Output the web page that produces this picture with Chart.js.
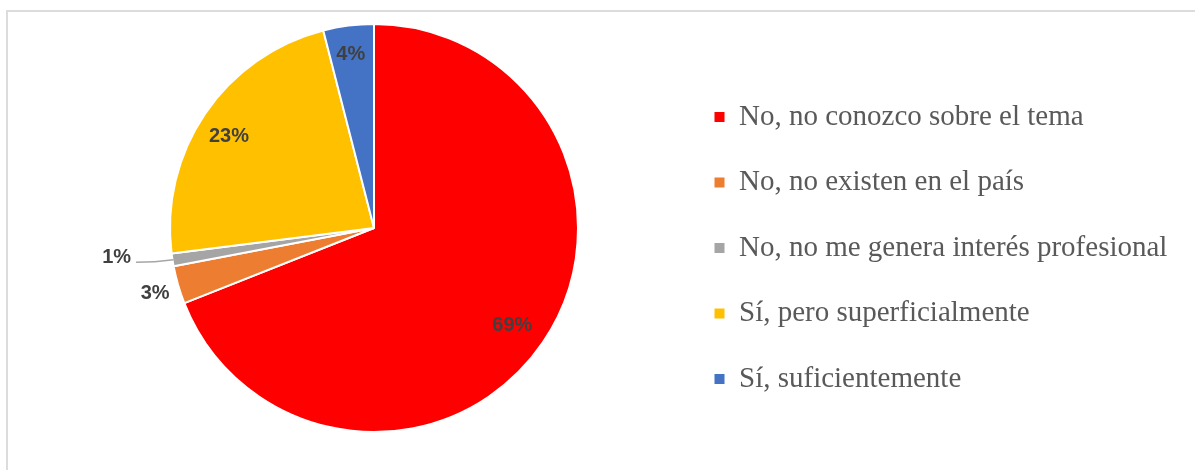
<!DOCTYPE html>
<html>
<head>
<meta charset="utf-8">
<script src="https://cdn.jsdelivr.net/npm/chart.js@4.4.1/dist/chart.umd.min.js"></script>
<style>
  html, body { margin: 0; padding: 0; background: #fff; }
  #wrap { position: relative; width: 1195px; height: 470px; overflow: hidden; }
  #frame { position: absolute; left: 6px; top: 10px; width: 1220px; height: 480px; border: 2px solid #dcdcdc; }
  canvas { position: absolute; left: 0; top: 0; }
</style>
</head>
<body>
<div id="wrap">
  <div id="frame"></div>
  <canvas id="pie" width="1195" height="470"></canvas>
</div>
<script>
const categories = [
  'No, no conozco sobre el tema',
  'No, no existen en el país',
  'No, no me genera interés profesional',
  'Sí, pero superficialmente',
  'Sí, suficientemente'
];
const percents = [69, 3, 1, 23, 4];
const sliceColors = ['#FF0000', '#ED7D31', '#A5A5A5', '#FFC000', '#4472C4'];

// where each percentage sits: fraction of the radius, small turn in degrees
const labelPlace = [
  { dist: 0.83, turn: 1 },
  { dist: 1.12, turn: -0.5 },
  { dist: 1.27, turn: 2.5, leader: true },
  { dist: 0.84, turn: -2 },
  { dist: 0.86, turn: -0.4 }
];

const legendSize = 29;
const legendPad = 36.5;
const legendFamily = '"Liberation Serif", "Times New Roman", serif';

// measure the longest legend entry so the pie keeps its place on the left
const mctx = document.createElement('canvas').getContext('2d');
mctx.font = legendSize + 'px ' + legendFamily;
const longest = Math.max(...categories.map(t => mctx.measureText(t).width));
const areaRight = 678;
const legendWidth = legendPad + 10 + legendSize / 2 + longest + 10;
const padRight = Math.max(0, 1195 - areaRight - legendWidth);

const sliceLabels = {
  id: 'sliceLabels',
  afterDatasetsDraw(chart, args, opts) {
    const ctx = chart.ctx;
    const values = chart.data.datasets[0].data;
    ctx.save();
    ctx.font = opts.font;
    ctx.textAlign = 'center';
    ctx.textBaseline = 'middle';
    chart.getDatasetMeta(0).data.forEach((arc, i) => {
      const p = arc.getProps(['x', 'y', 'startAngle', 'endAngle', 'outerRadius'], true);
      const place = opts.place[i];
      const mid = (p.startAngle + p.endAngle) / 2;
      const ang = mid + place.turn * Math.PI / 180;
      const d = p.outerRadius * place.dist;
      const lx = p.x + Math.cos(ang) * d;
      const ly = p.y + Math.sin(ang) * d;
      const text = values[i] + '%';
      if (place.leader) {
        const w = ctx.measureText(text).width;
        const ex = p.x + Math.cos(mid) * (p.outerRadius - 1);
        const ey = p.y + Math.sin(mid) * (p.outerRadius - 1);
        const sx = lx + w / 2 + 5;
        const sy = ly + 5;
        ctx.strokeStyle = opts.lineColor;
        ctx.lineWidth = 1.5;
        ctx.beginPath();
        ctx.moveTo(sx, sy);
        ctx.quadraticCurveTo((sx + ex) / 2, sy, ex, ey);
        ctx.stroke();
      }
      ctx.fillStyle = opts.color;
      ctx.fillText(text, lx, ly);
    });
    ctx.restore();
  }
};

new Chart(document.getElementById('pie'), {
  type: 'pie',
  data: {
    labels: categories,
    datasets: [{
      data: percents,
      backgroundColor: sliceColors,
      borderColor: '#ffffff',
      borderWidth: 2
    }]
  },
  options: {
    responsive: false,
    animation: false,
    layout: { padding: { left: 70, right: padRight, top: 23, bottom: 37 } },
    plugins: {
      tooltip: { enabled: false },
      legend: {
        position: 'right',
        align: 'start',
        title: { display: true, text: '', padding: { top: 0, bottom: 42 }, font: { size: 1, lineHeight: 1 } },
        labels: {
          boxWidth: 10,
          boxHeight: 10,
          padding: legendPad,
          color: '#595959',
          font: { family: legendFamily, size: legendSize },
          generateLabels(chart) {
            const items = Chart.overrides.pie.plugins.legend.labels.generateLabels(chart);
            items.forEach(it => { it.lineWidth = 0; it.strokeStyle = it.fillStyle; });
            return items;
          }
        }
      },
      sliceLabels: {
        place: labelPlace,
        font: 'bold 20px "Liberation Sans", Arial, sans-serif',
        color: '#404040',
        lineColor: '#A6A6A6'
      }
    }
  },
  plugins: [sliceLabels]
});
</script>
</body>
</html>
